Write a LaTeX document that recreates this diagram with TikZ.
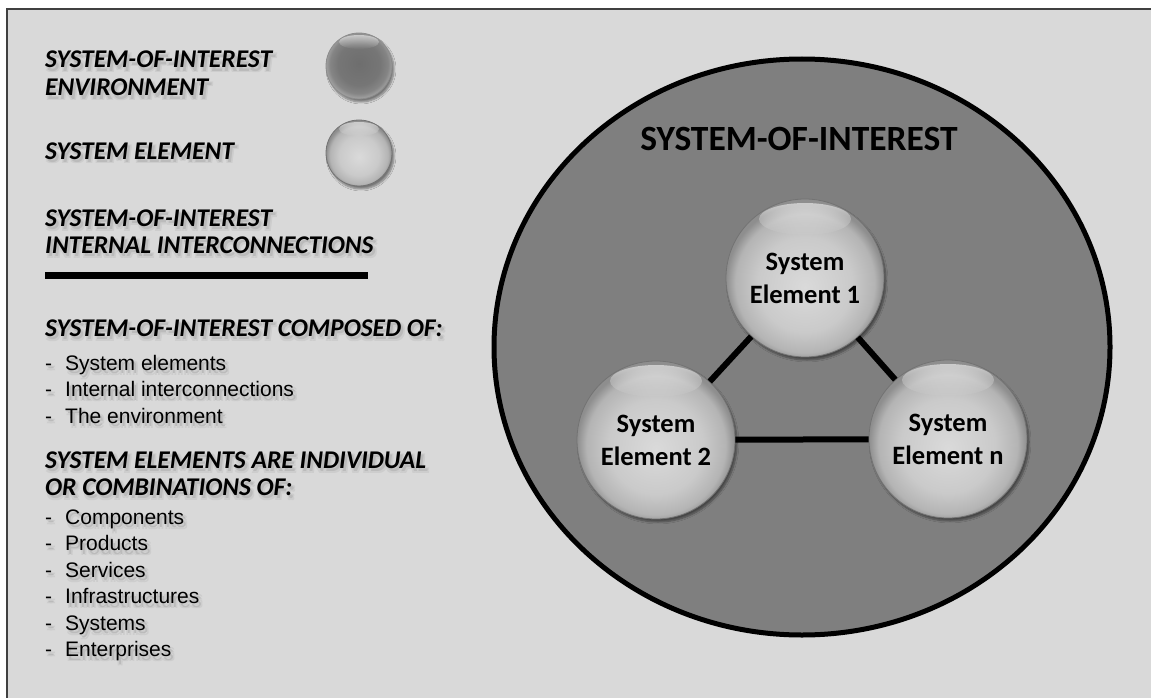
\documentclass[tikz,border=0pt]{standalone}
\usepackage{fontspec}
\setmainfont{Carlito}
\newfontfamily\arialf{Liberation Sans}
\usetikzlibrary{shapes.geometric,shadows.blur,fadings}
\definecolor{bgc}{HTML}{D9D9D9}
\definecolor{framec}{HTML}{404040}
\definecolor{envc}{HTML}{7F7F7F}
\definecolor{shA}{HTML}{CDCDCD}
\definecolor{shB}{HTML}{BBBBBB}
\definecolor{bA}{HTML}{DADADA}
\definecolor{bB}{HTML}{CACACA}
\definecolor{bC}{HTML}{B4B4B4}
\definecolor{bD}{HTML}{8E8E8E}
\definecolor{dA}{HTML}{6E6E6E}
\definecolor{dB}{HTML}{767676}
\definecolor{dC}{HTML}{858585}
\definecolor{dD}{HTML}{9E9E9E}
\pgfdeclareradialshading{ballsh}{\pgfpoint{0bp}{-3bp}}{color(0bp)=(bA); color(15bp)=(bB); color(22bp)=(bC); color(25bp)=(bD); color(50bp)=(bD)}
\pgfdeclareradialshading{darksh}{\pgfpoint{0bp}{2bp}}{color(0bp)=(dA); color(16bp)=(dB); color(22bp)=(dC); color(25bp)=(dD); color(50bp)=(dD)}
\newcommand\shcp[4]{\makebox[0pt][l]{\hspace*{#1}\raisebox{#2}{\color{#3}#4}}}
\newcommand\shd[1]{\shcp{1pt}{-2pt}{shA}{#1}\shcp{4pt}{-2pt}{shA}{#1}\shcp{1pt}{-5pt}{shA}{#1}\shcp{4pt}{-5pt}{shA}{#1}\shcp{2.5pt}{-3.5pt}{shB}{#1}#1}
\tikzset{
  head/.style={anchor=base west, inner sep=0, font=\bfseries\itshape\fontsize{25.5}{29}\selectfont},
  item/.style={anchor=base west, inner sep=0, font=\arialf\fontsize{21}{26}\selectfont},
  ballbase/.style={circle, inner sep=0, draw=black!55, line width=0.8,
    blur shadow={shadow xshift=2pt, shadow yshift=-3pt, shadow blur steps=6, shadow opacity=45}},
  ball/.style={ballbase, minimum size=158, shading=ballsh, align=center,
    font=\bfseries\fontsize{26.5}{33}\selectfont},
  conn/.style={line width=6, black},
  gleam/.style={fill=white, fill opacity=0.55, path fading=south},
}
\begin{document}
\begin{tikzpicture}[x=1pt,y=-1pt]
\useasboundingbox (0,0) rectangle (1151,698);
\fill[white] (0,0) rectangle (1151,698);
\fill[bgc] (7,9) rectangle (1151,698);
\draw[framec, line width=1.5] (7,698) -- (7,9) -- (1151,9);

% environment
\node[ellipse, draw=black, line width=5, fill=envc, minimum width=616, minimum height=576, inner sep=0] (soi) at (802,347) {};
\node[font=\bfseries\fontsize{35.5}{42}\selectfont, anchor=base, inner sep=0] (title) at (799,150) {SYSTEM-OF-INTEREST};

% system elements
\node[ball] (se1) at (805,278) {System\\Element 1};
\node[ball] (se2) at (656,440) {System\\Element 2};
\node[ball] (sen) at (948,439) {System\\Element n};
\fill[gleam] ([yshift=59pt]se1.center) ellipse [x radius=46, y radius=16];
\fill[gleam] ([yshift=59pt]se2.center) ellipse [x radius=46, y radius=16];
\fill[gleam] ([yshift=59pt]sen.center) ellipse [x radius=46, y radius=16];
\draw[conn] (se1) -- (se2);
\draw[conn] (se1) -- (sen);
\draw[conn] (se2) -- (sen);

% legend
\node[head] (l1a) at (45,68) {\shd{SYSTEM-OF-INTEREST}};
\node[head] (l1b) at (45,96) {\shd{ENVIRONMENT}};
\node[ballbase, minimum size=66, shading=darksh, draw=black!45] (envball) at (359,66) {};
\fill[gleam] ([yshift=24pt]envball.center) ellipse [x radius=20, y radius=7];
\node[head] (l2) at (45,159) {\shd{SYSTEM ELEMENT}};
\node[ballbase, minimum size=66, shading=ballsh] (elball) at (359,153) {};
\fill[gleam] ([yshift=24pt]elball.center) ellipse [x radius=20, y radius=7];
\node[head] (l3a) at (45,226) {\shd{SYSTEM-OF-INTEREST}};
\node[head] (l3b) at (45,253) {\shd{INTERNAL INTERCONNECTIONS}};
\coordinate (lla) at (45,275.5);
\coordinate (llb) at (368,275.5);
\draw[line width=7] (lla) -- (llb);

\node[head] (c0) at (45,336) {\shd{SYSTEM-OF-INTEREST COMPOSED OF:}};
\node[item] (c1) at (45,370) {\shd{\makebox[20pt][l]{-}System elements}};
\node[item] (c2) at (45,396.5) {\shd{\makebox[20pt][l]{-}Internal interconnections}};
\node[item] (c3) at (45,423) {\shd{\makebox[20pt][l]{-}The environment}};

\node[head] (e0a) at (45,468) {\shd{SYSTEM ELEMENTS ARE INDIVIDUAL}};
\node[head] (e0b) at (45,495) {\shd{OR COMBINATIONS OF:}};
\node[item] (e1) at (45,524) {\shd{\makebox[20pt][l]{-}Components}};
\node[item] (e2) at (45,550.5) {\shd{\makebox[20pt][l]{-}Products}};
\node[item] (e3) at (45,577) {\shd{\makebox[20pt][l]{-}Services}};
\node[item] (e4) at (45,603.5) {\shd{\makebox[20pt][l]{-}Infrastructures}};
\node[item] (e5) at (45,630) {\shd{\makebox[20pt][l]{-}Systems}};
\node[item] (e6) at (45,656.5) {\shd{\makebox[20pt][l]{-}Enterprises}};
\end{tikzpicture}
\end{document}
